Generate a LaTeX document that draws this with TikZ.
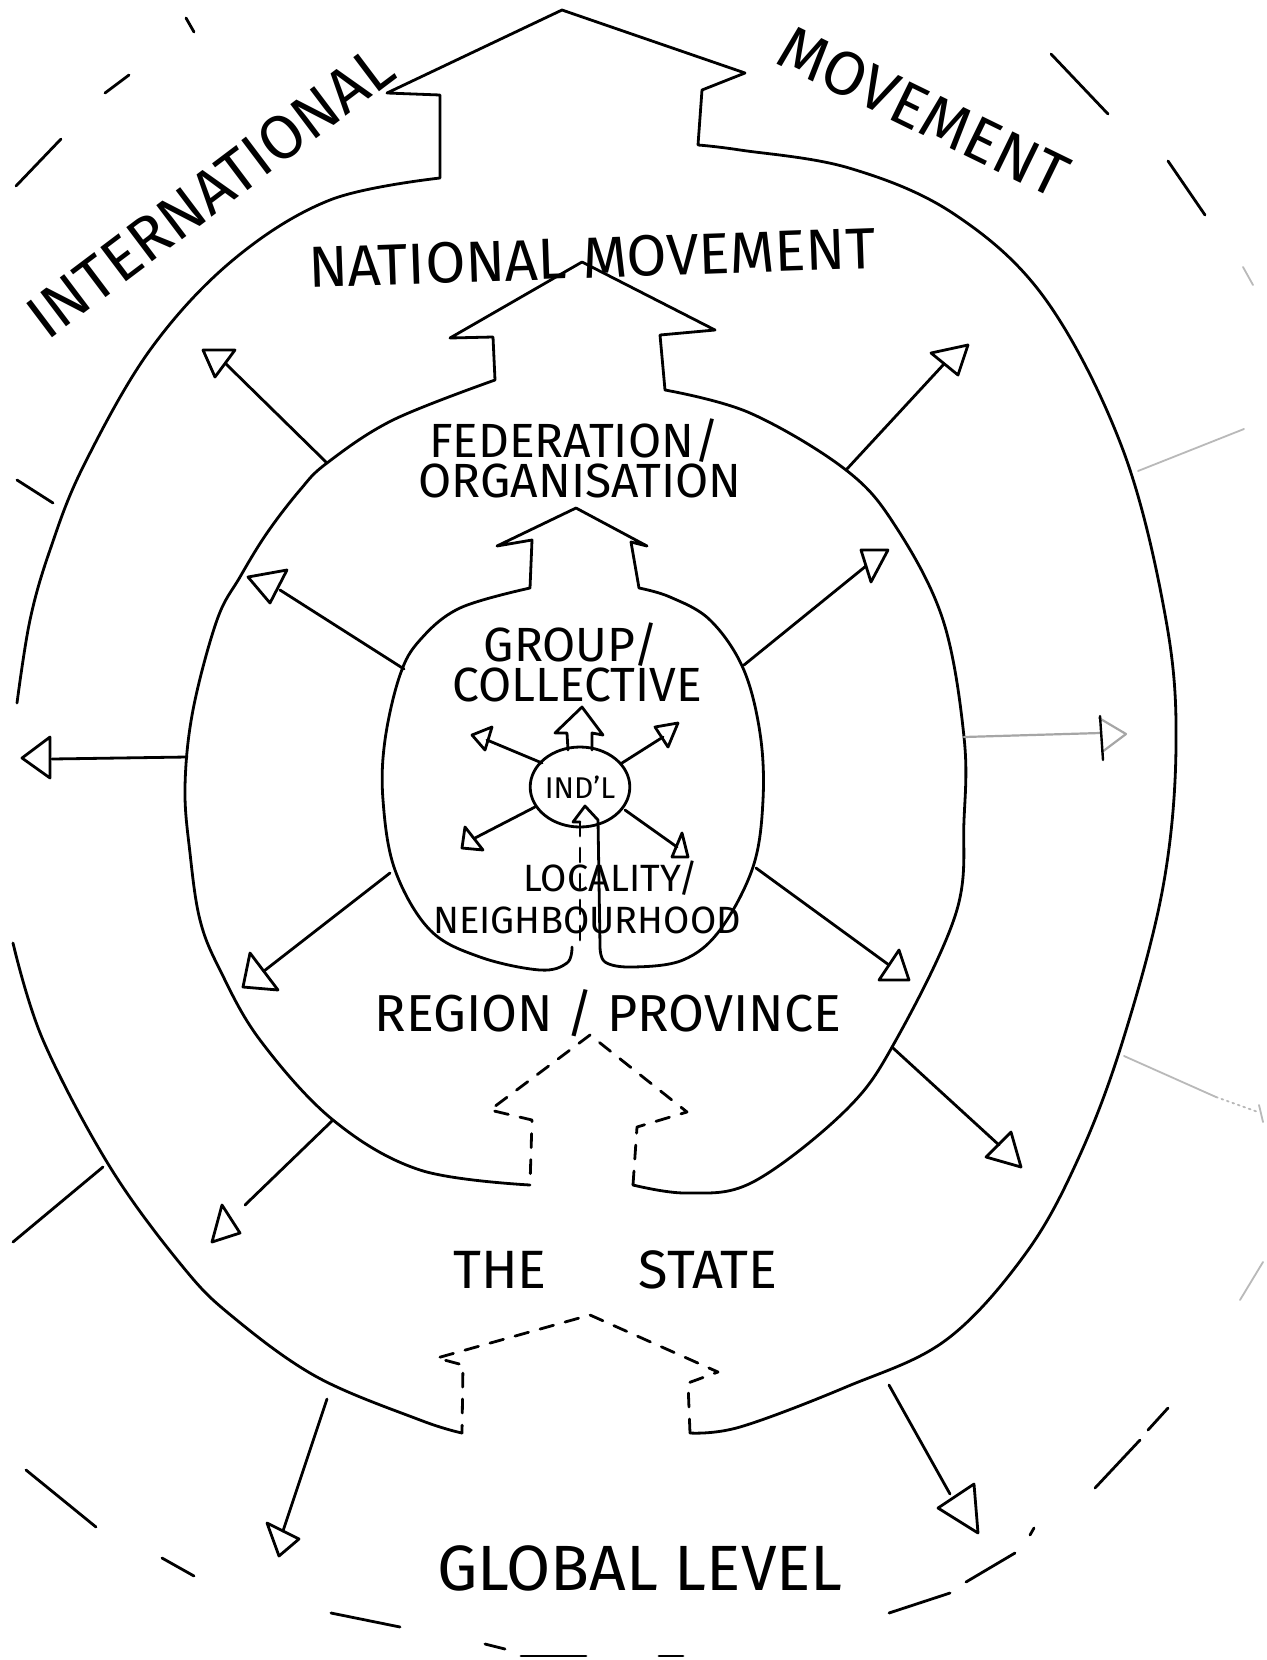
\documentclass[tikz,border=0pt]{standalone}
\usepackage{fontspec}
\setmainfont{Fira Sans}
\usetikzlibrary{shapes.geometric}
\newcommand\skarrow[5]{\draw[ln] #1 -- #2; \draw[ln] #3 -- #4 -- #5 -- cycle;}
\begin{document}
\begin{tikzpicture}[x=0.5pt,y=-0.5pt,
  ln/.style={line width=1.4pt, line join=round, line cap=round},
  dsh/.style={ln, dash pattern=on 7pt off 6pt},
  faint/.style={line width=0.9pt, gray!55, line cap=round},
  lbl/.style={inner sep=0pt, font=\fontsize{#1pt}{#1pt}\selectfont}]
\fill[white] (0,0) rectangle (1266,1660);
\useasboundingbox (0,0) rectangle (1266,1660);

% ---------- outer boundary (international / national) ----------
\draw[ln] plot[smooth,tension=0.6] coordinates {(17,703) (30,620) (50,550) (83,467) (150,350) (233,260) (330,200) (440,178)}
  -- (440,95) -- (387,93) -- (562,10) -- (745,73) -- (702,90) -- (698,145)
  -- plot[smooth,tension=0.6] coordinates {(698,145) (740,150) (849,168) (954,214) (1046,300) (1123,450) (1166,620) (1176,747) (1163,887) (1123,1040) (1079,1157) (1026,1253) (946,1340) (846,1387) (740,1427) (690,1433)};
\draw[dsh] (690,1433) -- (688,1383) -- (718,1372) -- (590,1315) -- (437,1358) -- (463,1365) -- (462,1433);
\draw[ln] plot[smooth,tension=0.6] coordinates {(462,1433) (420,1420) (317,1377) (233,1317) (183,1267) (110,1167) (43,1040) (13,943)};

% ---------- federation boundary ----------
\draw[ln] plot[smooth,tension=0.6] coordinates {(530,1185) (420,1170) (333,1120) (260,1040) (220,970) (200,920) (190,853) (185,787) (193,710) (217,620) (240,577) (267,533) (300,490) (327,463) (393,420) (495,380)}
  -- (493,337) -- (450,338) -- (582,262) -- (715,330) -- (660,335) -- (665,390)
  -- plot[smooth,tension=0.6] coordinates {(665,390) (750,413) (846,470) (896,527) (943,620) (964,737) (964,820) (956,913) (896,1040) (846,1110) (753,1182) (687,1193) (633,1185)};
\draw[dsh] (633,1185) -- (637,1127) -- (687,1112) -- (590,1035) -- (490,1110) -- (532,1120) -- (530,1185);

% ---------- group boundary ----------
\draw[ln] plot[smooth,tension=0.6] coordinates {(572,947) (567,963) (540,970) (480,957) (430,930) (395,870) (383,800) (385,740) (400,675) (420,640) (460,608) (530,588)}
  -- (532,540) -- (497,546) -- (576,508) -- (647,546) -- (631,542) -- (639,588)
  -- plot[smooth,tension=0.6] coordinates {(639,588) (670,597) (710,620) (743,668) (760,733) (763,800) (753,867) (720,930) (683,960) (633,967) (605,962) (600,945)}
  -- (598,820) -- (585,806) -- (573,822) -- (580,822);
\draw[dsh] (580,822) -- (580,940);

% ---------- individual ----------
\node[draw, ellipse, line width=1.4pt, minimum width=46pt, minimum height=40pt, inner sep=0pt, font=\fontsize{15pt}{15pt}\selectfont] (indl) at (580,787) {IND'L};
\draw[ln] (568,750) -- (567,733) -- (555,733) -- (582,707) -- (603,735) -- (592,733) -- (592,750);
\skarrow{(542,763)}{(487,740)}{(472,735)}{(492,727)}{(485,750)}
\skarrow{(622,763)}{(663,737)}{(655,727)}{(678,723)}{(668,747)}
\skarrow{(535,807)}{(475,838)}{(465,827)}{(462,848)}{(483,850)}
\skarrow{(625,810)}{(677,847)}{(682,833)}{(672,857)}{(688,857)}

% ---------- group arrows ----------
\skarrow{(404,669)}{(280,590)}{(248,577)}{(287,570)}{(270,603)}
\skarrow{(744,665)}{(866,566)}{(861,550)}{(888,550)}{(871,582)}
\skarrow{(390,873)}{(264,971)}{(250,953)}{(243,987)}{(278,990)}
\skarrow{(756,868)}{(889,965)}{(899,950)}{(879,980)}{(909,980)}

% ---------- federation arrows ----------
\skarrow{(327,463)}{(225,363)}{(203,350)}{(235,350)}{(215,377)}
\skarrow{(846,470)}{(944,364)}{(931,353)}{(968,345)}{(958,375)}
\skarrow{(187,757)}{(52,759)}{(50,737)}{(22,758)}{(50,778)}
\skarrow{(333,1120)}{(245,1205)}{(222,1205)}{(212,1242)}{(240,1233)}
\skarrow{(893,1048)}{(999,1145)}{(1011,1132)}{(986,1157)}{(1021,1167)}
\draw[faint, line width=1.1pt, gray!70] (964,737) -- (1100,733);
\draw[faint, line width=1.1pt, gray!70, line join=round] (1099,718) -- (1126,734) -- (1102,752);
\draw[ln, line width=1.2pt] (1100,716) -- (1103,760);

% ---------- outer arrows ----------
\skarrow{(327,1399)}{(283,1531)}{(267,1523)}{(279,1556)}{(299,1539)}
\skarrow{(889,1385)}{(950,1494)}{(974,1484)}{(978,1533)}{(938,1508)}

% ---------- faint lines on the right ----------
\draw[faint] (1138,471) -- (1244,429);
\draw[faint] (1124,1056) -- (1216,1097);
\draw[faint, dotted] (1216,1097) -- (1258,1112);
\draw[faint] (1243,267) -- (1253,285);
\draw[faint] (1259,1105) -- (1263,1122);
\draw[faint] (1263,1262) -- (1240,1300);

% ---------- global level dashed ring ----------
\draw[ln] (186,18) -- (194,32);
\draw[ln] (105,93) -- (129,75);
\draw[ln] (16,186) -- (61,139);
\draw[ln] (17,480) -- (53,503);
\draw[ln] (13,1242) -- (103,1167);
\draw[ln] (26,1470) -- (96,1527);
\draw[ln] (162,1558) -- (194,1576);
\draw[ln] (331,1613) -- (400,1627);
\draw[ln] (485,1644) -- (505,1649);
\draw[ln] (521,1656) -- (586,1656);
\draw[ln] (659,1656) -- (683,1656);
\draw[ln] (889,1613) -- (950,1593);
\draw[ln] (966,1582) -- (1015,1553);
\draw[ln] (1030,1535) -- (1034,1528);
\draw[ln] (1095,1488) -- (1140,1440);
\draw[ln] (1148,1430) -- (1168,1408);
\draw[ln] (1051,54) -- (1108,114);
\draw[ln] (1168,161) -- (1205,215);

% ---------- labels ----------
\node[lbl=31, rotate=37] (intl) at (210,192) {INTERNATIONAL};
\node[lbl=31, rotate=-26] (movement) at (924,112) {MOVEMENT};
\node[lbl=29, rotate=2] (national) at (592,258) {NATIONAL MOVEMENT};
\node[lbl=24] (fed) at (574,441) {FEDERATION/};
\node[lbl=24] (org) at (580,481) {ORGANISATION};
\node[lbl=24] (grp) at (571,645) {GROUP/};
\node[lbl=24] (coll) at (577,685) {COLLECTIVE};
\node[lbl=19] (loc) at (611,878) {LOCALITY/};
\node[lbl=19] (neigh) at (587,920) {NEIGHBOURHOOD};
\node[lbl=26] (region) at (608,1013) {REGION / PROVINCE};
\node[lbl=27] (the) at (500,1270) {THE};
\node[lbl=27] (state) at (708,1270) {STATE};
\node[lbl=32] (global) at (640,1568) {GLOBAL LEVEL};
\end{tikzpicture}
\end{document}
